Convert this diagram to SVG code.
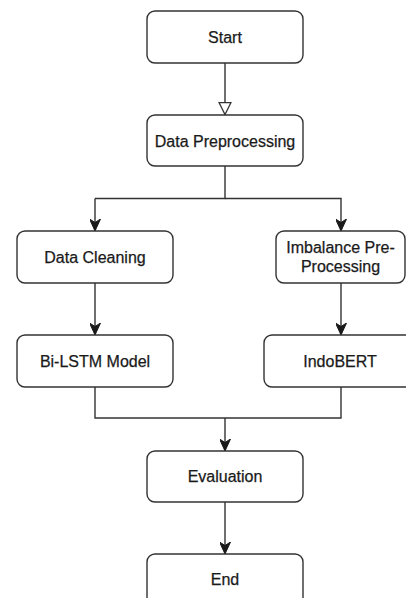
<svg xmlns="http://www.w3.org/2000/svg" width="406" height="598" viewBox="0 0 406 598">
  <defs>
    <marker id="arrow" markerUnits="userSpaceOnUse" viewBox="0 0 12 11" refX="12" refY="5.5" markerWidth="12" markerHeight="11" orient="auto">
      <path d="M0,0 L12,5.5 L0,11 L3.5,5.5 Z" fill="#1a1a1a" stroke="#1a1a1a" stroke-width="1" stroke-linejoin="miter"/>
    </marker>
    <marker id="hollow" markerUnits="userSpaceOnUse" viewBox="-1 -1 14 14" refX="12.5" refY="6" markerWidth="14" markerHeight="14" orient="auto">
      <path d="M0,0 L12,6 L0,12 Z" fill="#fff" stroke="#333" stroke-width="1.3"/>
    </marker>
  </defs>
  <style>
    .box { fill: #fff; stroke: #333; stroke-width: 1.4; }
    .label { font-family: "Liberation Sans", Arial, sans-serif; font-size: 16px; fill: #1a1a1a; stroke: #1a1a1a; stroke-width: 0.25; text-anchor: middle; }
    .edge { fill: none; stroke: #333; stroke-width: 1.4; }
  </style>
  <rect width="406" height="598" fill="#fff"/>

  <g id="connectors">
    <path class="edge" d="M225,63 V115" marker-end="url(#hollow)"/>
    <path class="edge" d="M225,166 V198.5 H95"/>
    <path class="edge" d="M95,198.5 V231" marker-end="url(#arrow)"/>
    <path class="edge" d="M225,198.5 H341 V231" marker-end="url(#arrow)"/>
    <path class="edge" d="M95,283 V335" marker-end="url(#arrow)"/>
    <path class="edge" d="M341,283 V335" marker-end="url(#arrow)"/>
    <path class="edge" d="M95,387 V418 H341 V387"/>
    <path class="edge" d="M225,418 V451" marker-end="url(#arrow)"/>
    <path class="edge" d="M225,502 V554" marker-end="url(#arrow)"/>
  </g>

  <g id="start">
    <rect class="box" x="147" y="11" width="156" height="52" rx="8"/>
    <text class="label" x="225" y="43">Start</text>
  </g>
  <g id="data-preprocessing">
    <rect class="box" x="147" y="115" width="156" height="51" rx="8"/>
    <text class="label" x="225" y="146.5">Data Preprocessing</text>
  </g>
  <g id="data-cleaning">
    <rect class="box" x="17" y="231" width="156" height="52" rx="8"/>
    <text class="label" x="95" y="263">Data Cleaning</text>
  </g>
  <g id="imbalance-preprocessing">
    <rect class="box" x="276" y="231" width="129" height="52" rx="8"/>
    <text class="label" x="340.5" y="253">Imbalance Pre-</text>
    <text class="label" x="340.5" y="272">Processing</text>
  </g>
  <g id="bilstm">
    <rect class="box" x="17" y="335" width="156" height="52" rx="8"/>
    <text class="label" x="95" y="367">Bi-LSTM Model</text>
  </g>
  <g id="indobert">
    <rect class="box" x="264" y="335" width="156" height="52" rx="8"/>
    <text class="label" x="340" y="367">IndoBERT</text>
  </g>
  <g id="evaluation">
    <rect class="box" x="147" y="451" width="156" height="51" rx="8"/>
    <text class="label" x="225" y="482">Evaluation</text>
  </g>
  <g id="end">
    <rect class="box" x="147" y="554" width="156" height="52" rx="8"/>
    <text class="label" x="225" y="585">End</text>
  </g>
</svg>
